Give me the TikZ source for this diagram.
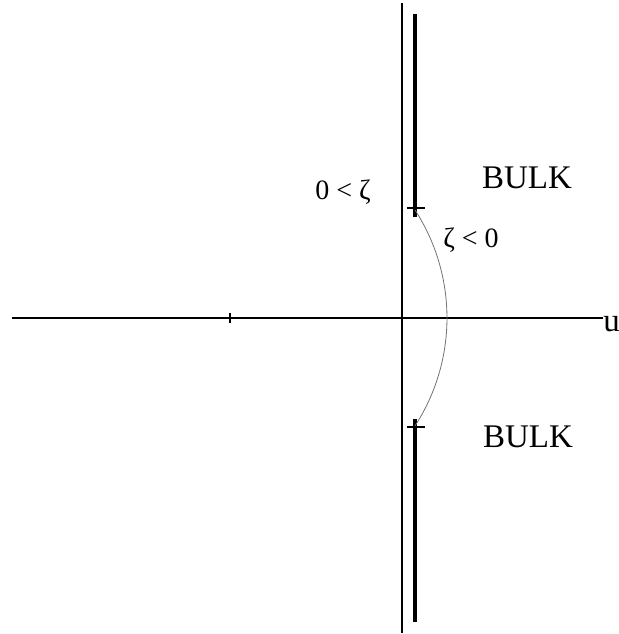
\documentclass[tikz,border=0pt]{standalone}
\usepackage{fontspec}
\setmainfont{Liberation Serif}
\usepackage{tikz}
\usetikzlibrary{positioning,calc}
\tikzset{
  cpaxis/.style={line width=1.1pt,line cap=butt},
  cpcut/.style={line width=2pt,line cap=butt},
  cptick/.style={line width=0.8pt},
  cparc/.style={line width=0.4pt,black!55},
  cplabel/.style={font=\fontsize{14}{16}\selectfont,inner sep=0pt},
  cpbulk/.style={font=\fontsize{16.5}{18}\selectfont,inner sep=0pt}
}
\begin{document}
\begin{tikzpicture}[x=0.5pt,y=0.5pt]
% u-plane with the two cuts along the imaginary direction
\useasboundingbox (0,0) rectangle (619,634);
\coordinate (vtop) at (402,631);
\coordinate (vbot) at (402,1);
\coordinate (hleft) at (12,316);
\coordinate (hright) at (603,316);
\coordinate (xt) at (230,316);
\coordinate (ctop) at (415,620);
\coordinate (zt) at (415,424);
\coordinate (zb) at (415,208);
\coordinate (cbot) at (415,12);
\draw[cpaxis] (vbot) -- (vtop);
\draw[cpaxis] (hleft) -- (hright);
\draw[cptick] ($(xt)+(0,-5)$) -- ($(xt)+(0,5)$);
\draw[cpcut] (ctop) -- ($(zt)+(0,-7)$);
\draw[cpcut] ($(zb)+(0,7)$) -- (cbot);
\draw[cptick] ($(zt)+(-8,2)$) -- ($(zt)+(10,2)$);
\draw[cptick] ($(zb)+(-8,-1)$) -- ($(zb)+(10,-1)$);
\draw[cparc] (zt) arc[start angle=33,end angle=-33,radius=99.1pt];
\node[cplabel] (lpos) at (343,442) {0 < ζ};
\node[cplabel] (lneg) at (471,394) {ζ < 0};
\node[cpbulk] (bulkup) at (527,456) {BULK};
\node[cpbulk] (bulkdn) at (528,197) {BULK};
\node[cpbulk,anchor=north west,yshift=1pt] (ulab) at (hright) {u};
\end{tikzpicture}
\end{document}
